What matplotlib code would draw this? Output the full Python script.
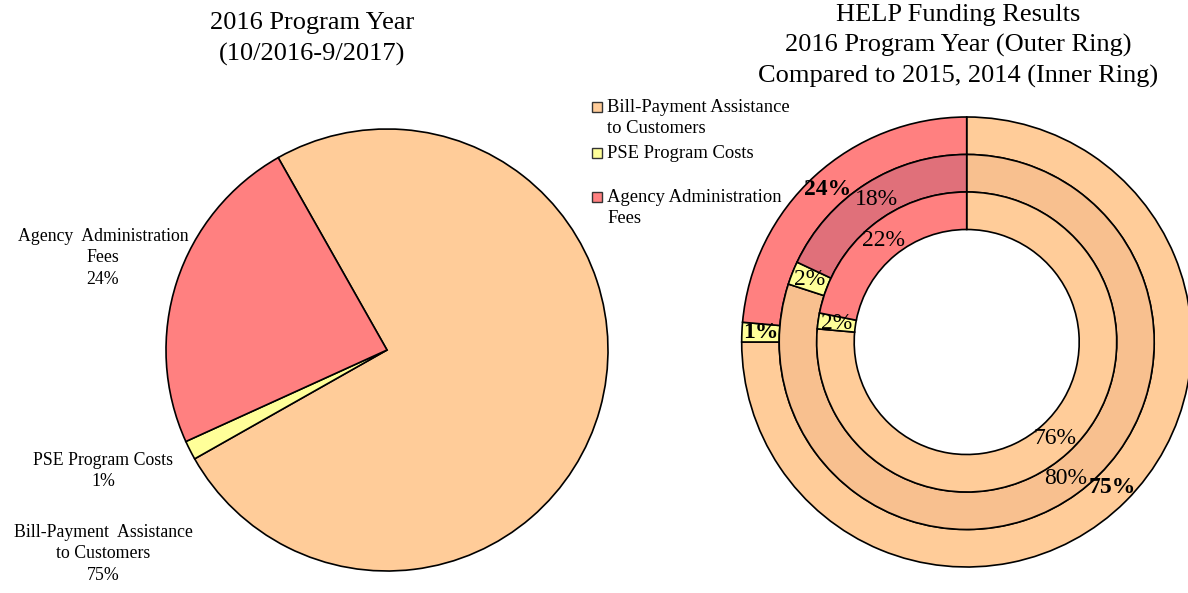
import matplotlib
matplotlib.use("Agg")
import matplotlib.pyplot as plt
from matplotlib.patches import Rectangle

plt.rcParams.update({
    "font.family": ["Liberation Serif", "DejaVu Serif"],
})

# ── Data ─────────────────────────────────────────────────────────────────────
categories = ["Bill-Payment Assistance to Customers",
              "PSE Program Costs",
              "Agency Administration Fees"]
pie_labels = ["Bill-Payment  Assistance\nto Customers",
              "PSE Program Costs",
              "Agency  Administration\nFees"]
legend_labels = ["Bill-Payment Assistance\nto Customers",
                 "PSE Program Costs",
                 "Agency Administration\nFees"]
share_2016 = [75.0, 1.4, 23.6]   # outer ring + left pie
share_2015 = [80.0, 2.0, 18.0]   # middle ring
share_2014 = [76.4, 1.7, 21.9]   # inner ring

COLORS = ["#FFCC99", "#FFFF99", "#FF8080"]
COLORS_MID = ["#F8C08F", "#FFFF99", "#E0707A"]

W, H = 1188, 593
fig = plt.figure(figsize=(W / 100, H / 100), dpi=100)


def px_axes(cx, cy, r):
    """Square axes centred on pixel (cx, cy) with radius r (pixels, y down)."""
    return fig.add_axes([(cx - r) / W, (H - cy - r) / H, 2 * r / W, 2 * r / H])


# ── Left pie ─────────────────────────────────────────────────────────────────
ax1 = px_axes(387, 350, 221)
ax1.pie(share_2016, colors=COLORS, startangle=119.5, counterclock=False,
        radius=1.0, wedgeprops=dict(edgecolor="black", linewidth=1.2))
ax1.set_xlim(-1, 1); ax1.set_ylim(-1, 1)
ax1.axis("off")

fig.text(312 / W, 1 - 39 / H, "2016 Program Year\n(10/2016-9/2017)",
         ha="center", va="center", fontsize=19, linespacing=1.45)

left_label_y = [554, 471, 258]   # Bill, PSE, Agency (pixel centres)
for lab, val, y in zip(pie_labels, share_2016, left_label_y):
    fig.text(103 / W, 1 - y / H, f"{lab}\n{val:.0f}%", ha="center",
             va="center", fontsize=12.8, linespacing=1.36)

# ── Right donut ──────────────────────────────────────────────────────────────
ax2 = px_axes(966.7, 342, 225)
rings = [(share_2016, COLORS, 1.0, True),
         (share_2015, COLORS_MID, 0.8333, False),
         (share_2014, COLORS, 0.6667, False)]
width = 1 / 6
for vals, cols, rad, bold in rings:
    mid = rad - width / 2
    _, _, pcts = ax2.pie(vals, colors=cols, startangle=90, counterclock=False,
                         radius=rad, autopct="%.0f%%", pctdistance=mid / rad,
                         wedgeprops=dict(width=width, edgecolor="black",
                                         linewidth=1.2))
    for t in pcts:
        t.set_fontsize(17)
        if bold:
            t.set_fontweight("bold")
ax2.set_xlim(-1, 1); ax2.set_ylim(-1, 1)
ax2.axis("off")

fig.text(958 / W, 1 - 46 / H,
         "HELP Funding Results\n2016 Program Year (Outer Ring)\n"
         "Compared to 2015, 2014 (Inner Ring)",
         ha="center", va="center", fontsize=19, linespacing=1.42)

# legend (Excel style: marker beside the first line)
legend_y = [107, 153, 197]
for lab, col, y in zip(legend_labels, COLORS, legend_y):
    fig.patches.append(Rectangle((592 / W, 1 - (y + 5) / H), 10 / W, 10 / H,
                                 transform=fig.transFigure, facecolor=col,
                                 edgecolor="#333333", linewidth=1.0))
    fig.text(607 / W, 1 - (y - 8) / H, lab, ha="left", va="top",
             fontsize=13.4, linespacing=1.3)

plt.savefig("out.png", dpi=100)
